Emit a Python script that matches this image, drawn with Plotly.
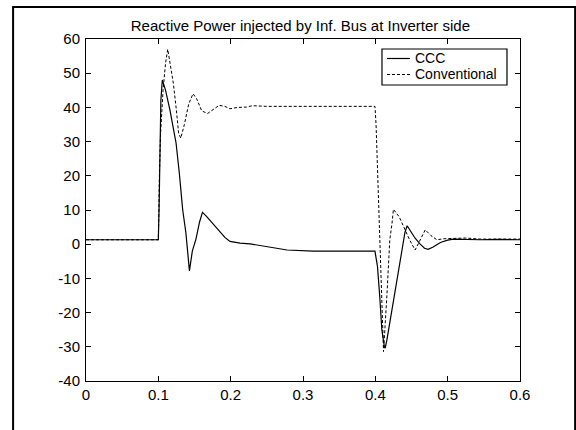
import plotly.graph_objects as go

# Reactive power (MVAr) at the inverter-side infinite bus, two control schemes
t_ccc = [0, 0.1, 0.101, 0.102, 0.1035, 0.1055, 0.11, 0.116, 0.1245, 0.129,
         0.1337, 0.138, 0.143, 0.147, 0.152, 0.157, 0.161, 0.166, 0.172, 0.178,
         0.185, 0.192, 0.199, 0.213, 0.227, 0.25, 0.278, 0.314, 0.35, 0.3995,
         0.401, 0.403, 0.406, 0.409, 0.4125, 0.4136, 0.416, 0.42, 0.425, 0.43,
         0.437, 0.441, 0.444, 0.449, 0.455, 0.462, 0.468, 0.473, 0.48, 0.49,
         0.5, 0.508, 0.52, 0.545, 0.57, 0.6]
q_ccc = [1.3, 1.3, 10, 30, 42, 48, 45, 39.3, 29.6, 20.8,
         10, 3.5, -7.8, -2, 1.5, 6.5, 9.3, 8.3, 6.8, 5.3,
         3.7, 2.0, 0.8, 0.3, 0.1, -0.7, -1.7, -2.0, -2.0, -2.0,
         -4, -6.6, -15, -25, -30, -30.4, -28, -23, -16, -10.4,
         -0.7, 3.5, 5.4, 3.8, 1.75, 0, -1.2, -1.5, -0.8, 0.5,
         1.2, 1.5, 1.4, 1.3, 1.4, 1.3]

t_conv = [0, 0.1, 0.1015, 0.103, 0.1065, 0.11, 0.113, 0.118, 0.1208, 0.1254,
          0.128, 0.131, 0.136, 0.142, 0.148, 0.153, 0.16, 0.168, 0.176, 0.184,
          0.192, 0.199, 0.21, 0.222, 0.23, 0.25, 0.3, 0.35, 0.3995, 0.401,
          0.4035, 0.406, 0.409, 0.4113, 0.416, 0.42, 0.423, 0.425, 0.433, 0.441,
          0.448, 0.455, 0.462, 0.469, 0.477, 0.485, 0.495, 0.508, 0.525, 0.545,
          0.57, 0.6]
q_conv = [1.3, 1.3, 20, 32, 45, 53, 57, 50, 47, 38.3,
          32.5, 31, 35, 41, 44, 42.5, 39, 38.2, 39.5, 40.6,
          40.3, 39.6, 40, 40.1, 40.5, 40.3, 40.3, 40.3, 40.3, 35,
          18.8, 0, -20, -31.4, -15, 1.3, 6, 10.2, 8, 4.2,
          1, -1.7, 1.5, 4.2, 2.5, 1.3, 1.6, 1.75, 1.8, 1.5,
          1.6, 1.5]

x_ticks = [0, 0.1, 0.2, 0.3, 0.4, 0.5, 0.6]
y_ticks = [-40, -30, -20, -10, 0, 10, 20, 30, 40, 50, 60]
legend_names = ["CCC", "Conventional"]
title_text = "Reactive Power injected by Inf. Bus at Inverter side"

FONT = "Liberation Sans, Arial, Helvetica, sans-serif"

fig = go.Figure()
fig.add_trace(go.Scatter(x=t_ccc, y=q_ccc, mode="lines", name=legend_names[0],
                         line=dict(color="black", width=1.2)))
fig.add_trace(go.Scatter(x=t_conv, y=q_conv, mode="lines", name=legend_names[1],
                         line=dict(color="black", width=1.0, dash="3px,2px")))

axis_common = dict(showline=True, linecolor="black", linewidth=1, mirror="ticks",
                   ticks="inside", ticklen=5, tickcolor="black", tickwidth=1,
                   showgrid=False, zeroline=False,
                   tickfont=dict(family=FONT, size=15, color="black"))

fig.update_xaxes(range=[0, 0.6], tickvals=x_ticks,
                 ticktext=[f"{v:g}" for v in x_ticks], **axis_common)
fig.update_yaxes(range=[-40, 60], tickvals=y_ticks,
                 ticktext=[str(v) for v in y_ticks], ticklabelstandoff=2,
                 **axis_common)

# hand-built legend box with line samples
row_y = [0.9430, 0.8962]
shapes = [
    dict(type="rect", xref="paper", yref="paper", x0=0.682, x1=0.970,
         y0=0.8655, y1=0.9708, line=dict(color="black", width=1.2),
         fillcolor="white"),
    dict(type="line", xref="paper", yref="paper", x0=0.6935, x1=0.7465,
         y0=row_y[0], y1=row_y[0], line=dict(color="black", width=1.2)),
    dict(type="line", xref="paper", yref="paper", x0=0.6935, x1=0.7465,
         y0=row_y[1], y1=row_y[1], line=dict(color="black", width=1.0, dash="3px,2px")),
    # outer figure frame
    dict(type="rect", xref="paper", yref="paper", x0=-0.168, x1=1.127,
         y0=-0.2, y1=1.0936, line=dict(color="black", width=2),
         layer="below"),
]
annotations = [
    dict(text=name, xref="paper", yref="paper", x=0.7535, y=yy,
         xanchor="left", yanchor="middle", showarrow=False,
         font=dict(family=FONT, size=14, color="black"))
    for name, yy in zip(legend_names, row_y)
]

fig.update_layout(
    width=576, height=430,
    margin=dict(l=86, r=56, t=39, b=49),
    paper_bgcolor="white", plot_bgcolor="white",
    showlegend=False,
    title=dict(text=title_text, x=0.494, xref="paper", xanchor="center",
               y=1 - 26 / 430, yref="container", yanchor="middle",
               font=dict(family=FONT, size=15, color="black")),
    shapes=shapes, annotations=annotations,
)

fig.write_html("out.html")
